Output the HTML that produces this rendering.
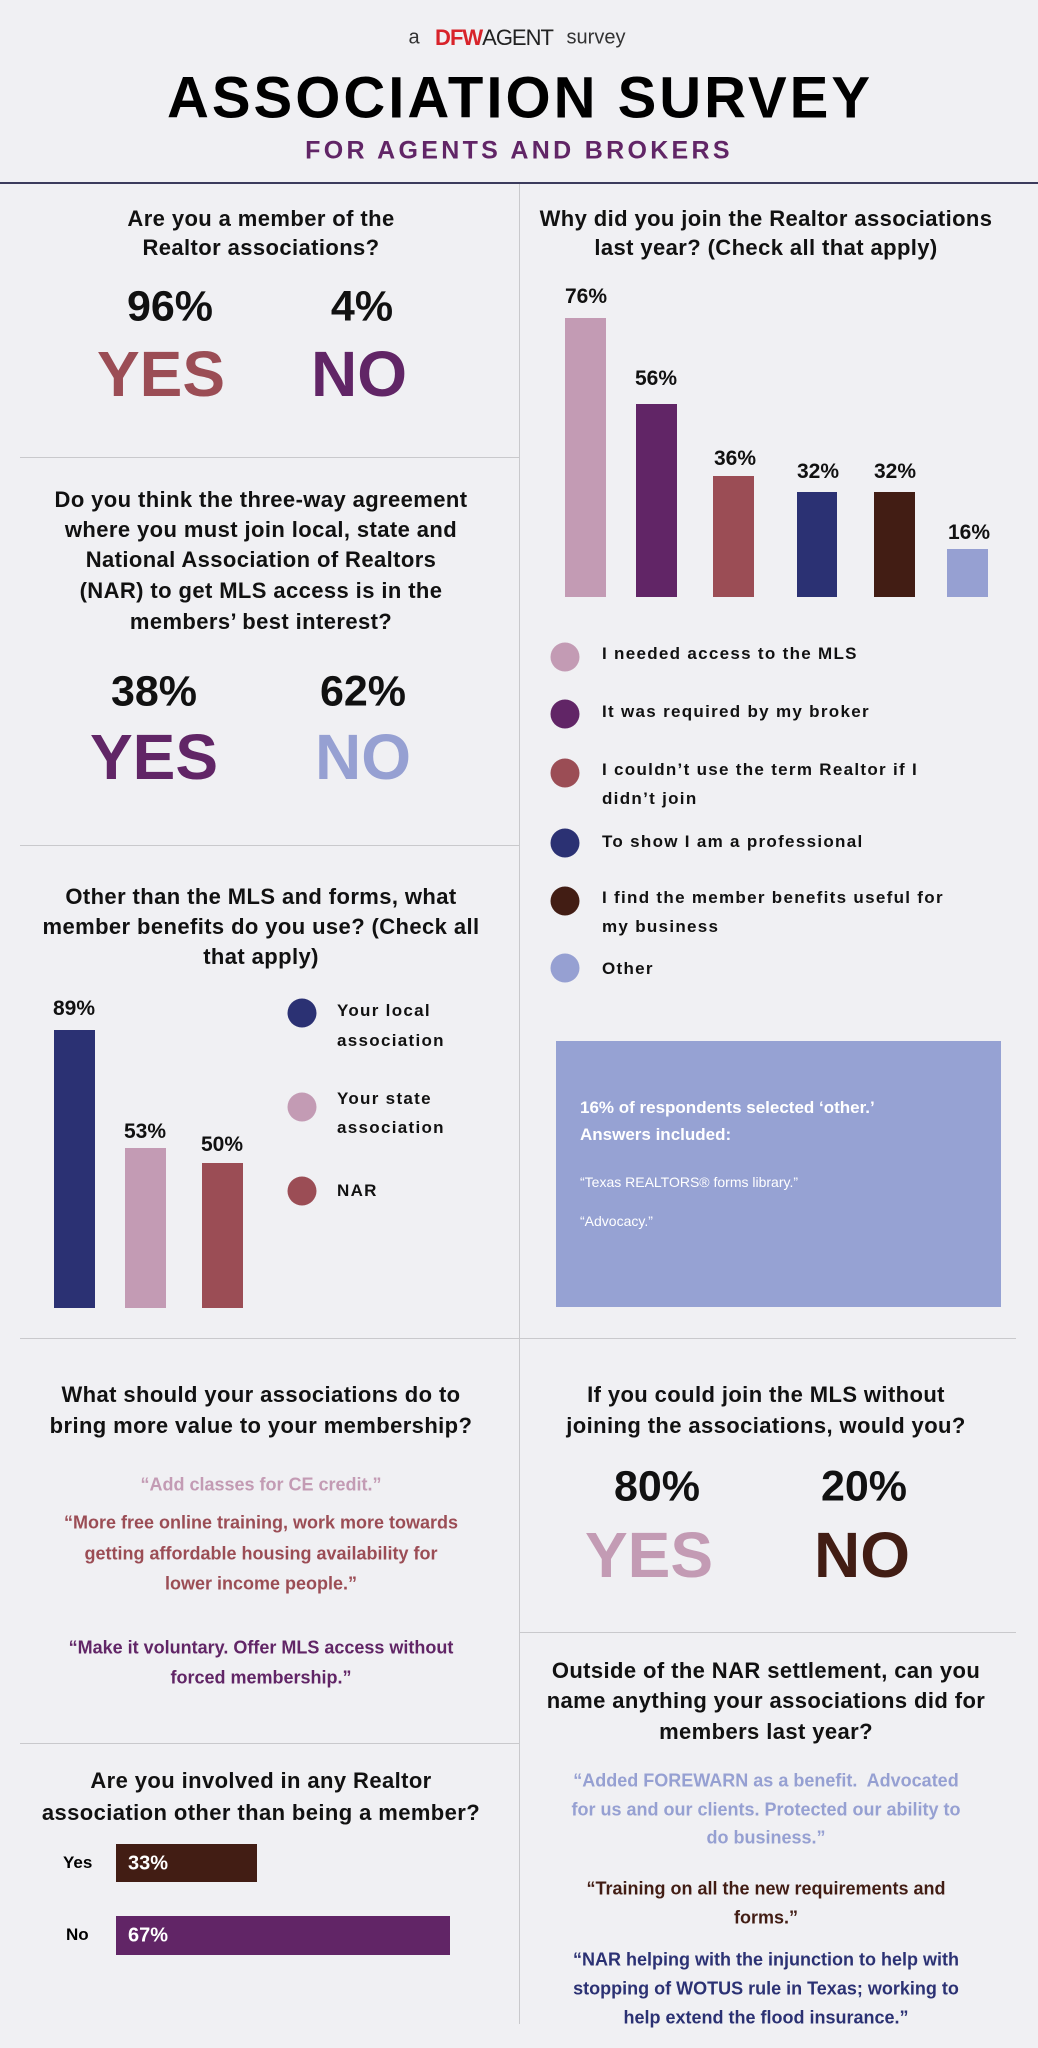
<!DOCTYPE html>
<html><head><meta charset="utf-8"><style>
body{margin:0;width:1038px;height:2048px;background:#f0f0f3;position:relative;overflow:hidden;font-family:"Liberation Sans",sans-serif;}
.c{position:absolute;white-space:nowrap;transform:translate(-50%,-50%);}
.l{position:absolute;white-space:nowrap;transform:translateY(-50%);}
.q{font-weight:bold;font-size:22px;color:#111;letter-spacing:0.4px;}
.p{font-weight:bold;font-size:43px;color:#111;}
.big{font-weight:bold;font-size:64px;letter-spacing:0px;}
.hl{position:absolute;height:1px;background:#c9c9cc;}
.bar{position:absolute;}
.lab{font-weight:bold;font-size:21px;color:#111;}
.dot{position:absolute;width:29px;height:29px;border-radius:50%;transform:translate(-50%,-50%);}
.lg{font-weight:bold;font-size:17px;color:#111;letter-spacing:1.3px;}
.qt{font-weight:bold;font-size:18px;}
</style></head><body>
<div class="c" style="left:414px;top:38px;font-size:20px;color:#333;">a</div>
<div class="c" style="left:494px;top:38px;font-size:22px;font-weight:bold;color:#d8232a;letter-spacing:-1px;">DFW<span style="color:#222;font-weight:normal;">AGENT</span></div>
<div class="c" style="left:596px;top:38px;font-size:20px;color:#333;">survey</div>
<div class="c" style="left:520px;top:98px;font-size:58px;font-weight:bold;color:#000;letter-spacing:3px;">ASSOCIATION SURVEY</div>
<div class="c" style="left:519px;top:151px;font-size:25px;font-weight:bold;color:#612566;letter-spacing:3.3px;">FOR AGENTS AND BROKERS</div>
<div style="position:absolute;left:0;top:182px;width:1038px;height:2px;background:#3b3b5c;"></div>
<div style="position:absolute;left:519px;top:184px;width:1px;height:1840px;background:#c9c9cc;"></div>
<div class="hl" style="left:20px;top:457px;width:499px;"></div>
<div class="hl" style="left:20px;top:845px;width:499px;"></div>
<div class="hl" style="left:20px;top:1338px;width:996px;"></div>
<div class="hl" style="left:20px;top:1743px;width:499px;"></div>
<div class="hl" style="left:519px;top:1632px;width:497px;"></div>

<div class="c q" style="left:261px;top:219px;">Are you a member of the</div>
<div class="c q" style="left:261px;top:248px;">Realtor associations?</div>
<div class="c p" style="left:170px;top:307px;">96%</div>
<div class="c p" style="left:362px;top:307px;">4%</div>
<div class="c big" style="left:161px;top:374px;color:#9b4d55;">YES</div>
<div class="c big" style="left:359px;top:374px;color:#612566;">NO</div>

<div class="c q" style="left:261px;top:500px;">Do you think the three-way agreement</div>
<div class="c q" style="left:261px;top:530px;">where you must join local, state and</div>
<div class="c q" style="left:261px;top:560px;">National Association of Realtors</div>
<div class="c q" style="left:261px;top:591px;">(NAR) to get MLS access is in the</div>
<div class="c q" style="left:261px;top:622px;">members’ best interest?</div>
<div class="c p" style="left:154px;top:692px;">38%</div>
<div class="c p" style="left:363px;top:692px;">62%</div>
<div class="c big" style="left:154px;top:757px;color:#612566;">YES</div>
<div class="c big" style="left:363px;top:757px;color:#96a0d2;">NO</div>

<div class="c q" style="left:261px;top:897px;">Other than the MLS and forms, what</div>
<div class="c q" style="left:261px;top:927px;">member benefits do you use? (Check all</div>
<div class="c q" style="left:261px;top:957px;">that apply)</div>
<div class="bar" style="left:54px;top:1030px;width:41px;height:278px;background:#2b3173;"></div>
<div class="bar" style="left:125px;top:1148px;width:41px;height:160px;background:#c39bb4;"></div>
<div class="bar" style="left:202px;top:1163px;width:41px;height:145px;background:#9b4d55;"></div>
<div class="c lab" style="left:74px;top:1009px;">89%</div>
<div class="c lab" style="left:145px;top:1132px;">53%</div>
<div class="c lab" style="left:222px;top:1145px;">50%</div>
<div class="dot" style="left:302px;top:1013px;background:#2b3173;"></div>
<div class="dot" style="left:302px;top:1107px;background:#c39bb4;"></div>
<div class="dot" style="left:302px;top:1191px;background:#9b4d55;"></div>
<div class="l lg" style="left:337px;top:1011px;">Your local</div>
<div class="l lg" style="left:337px;top:1041px;">association</div>
<div class="l lg" style="left:337px;top:1099px;">Your state</div>
<div class="l lg" style="left:337px;top:1128px;">association</div>
<div class="l lg" style="left:337px;top:1191px;">NAR</div>

<div class="c q" style="left:766px;top:219px;">Why did you join the Realtor associations</div>
<div class="c q" style="left:766px;top:248px;">last year? (Check all that apply)</div>
<div class="bar" style="left:565px;top:318px;width:41px;height:279px;background:#c39bb4;"></div>
<div class="bar" style="left:636px;top:404px;width:41px;height:193px;background:#612566;"></div>
<div class="bar" style="left:713px;top:476px;width:41px;height:121px;background:#9b4d55;"></div>
<div class="bar" style="left:797px;top:492px;width:40px;height:105px;background:#2b3173;"></div>
<div class="bar" style="left:874px;top:492px;width:41px;height:105px;background:#421d14;"></div>
<div class="bar" style="left:947px;top:549px;width:41px;height:48px;background:#96a0d2;"></div>
<div class="c lab" style="left:586px;top:297px;">76%</div>
<div class="c lab" style="left:656px;top:379px;">56%</div>
<div class="c lab" style="left:735px;top:459px;">36%</div>
<div class="c lab" style="left:818px;top:472px;">32%</div>
<div class="c lab" style="left:895px;top:472px;">32%</div>
<div class="c lab" style="left:969px;top:533px;">16%</div>
<div class="dot" style="left:565px;top:657px;background:#c39bb4;"></div>
<div class="dot" style="left:565px;top:714px;background:#612566;"></div>
<div class="dot" style="left:565px;top:773px;background:#9b4d55;"></div>
<div class="dot" style="left:565px;top:843px;background:#2b3173;"></div>
<div class="dot" style="left:565px;top:901px;background:#421d14;"></div>
<div class="dot" style="left:565px;top:968px;background:#96a0d2;"></div>
<div class="l lg" style="left:602px;top:654px;">I needed access to the MLS</div>
<div class="l lg" style="left:602px;top:712px;">It was required by my broker</div>
<div class="l lg" style="left:602px;top:770px;">I couldn’t use the term Realtor if I</div>
<div class="l lg" style="left:602px;top:799px;">didn’t join</div>
<div class="l lg" style="left:602px;top:842px;">To show I am a professional</div>
<div class="l lg" style="left:602px;top:898px;">I find the member benefits useful for</div>
<div class="l lg" style="left:602px;top:927px;">my business</div>
<div class="l lg" style="left:602px;top:969px;">Other</div>

<div style="position:absolute;left:556px;top:1041px;width:445px;height:266px;background:#96a2d3;"></div>
<div class="l" style="left:580px;top:1108px;color:#fff;font-weight:bold;font-size:17px;">16% of respondents selected ‘other.’</div>
<div class="l" style="left:580px;top:1135px;color:#fff;font-weight:bold;font-size:17px;">Answers included:</div>
<div class="l" style="left:580px;top:1182px;color:#fff;font-size:14px;">“Texas REALTORS® forms library.”</div>
<div class="l" style="left:580px;top:1221px;color:#fff;font-size:14px;">“Advocacy.”</div>

<div class="c q" style="left:261px;top:1395px;">What should your associations do to</div>
<div class="c q" style="left:261px;top:1426px;">bring more value to your membership?</div>
<div class="c qt" style="left:261px;top:1485px;color:#c39bb4;">“Add classes for CE credit.”</div>
<div class="c qt" style="left:261px;top:1523px;color:#9b4d55;">“More free online training, work more towards</div>
<div class="c qt" style="left:261px;top:1554px;color:#9b4d55;">getting affordable housing availability for</div>
<div class="c qt" style="left:261px;top:1584px;color:#9b4d55;">lower income people.”</div>
<div class="c qt" style="left:261px;top:1648px;color:#612566;">“Make it voluntary. Offer MLS access without</div>
<div class="c qt" style="left:261px;top:1678px;color:#612566;">forced membership.”</div>

<div class="c q" style="left:261px;top:1781px;">Are you involved in any Realtor</div>
<div class="c q" style="left:261px;top:1813px;">association other than being a member?</div>
<div class="l" style="left:63px;top:1863px;font-weight:bold;font-size:17px;">Yes</div>
<div class="l" style="left:66px;top:1935px;font-weight:bold;font-size:17px;">No</div>
<div class="bar" style="left:116px;top:1844px;width:141px;height:38px;background:#421d14;"></div>
<div class="bar" style="left:116px;top:1916px;width:334px;height:39px;background:#612566;"></div>
<div class="l" style="left:128px;top:1864px;color:#fff;font-weight:bold;font-size:20px;">33%</div>
<div class="l" style="left:128px;top:1936px;color:#fff;font-weight:bold;font-size:20px;">67%</div>

<div class="c q" style="left:766px;top:1395px;">If you could join the MLS without</div>
<div class="c q" style="left:766px;top:1426px;">joining the associations, would you?</div>
<div class="c p" style="left:657px;top:1487px;">80%</div>
<div class="c p" style="left:864px;top:1487px;">20%</div>
<div class="c big" style="left:649px;top:1555px;color:#c39bb4;">YES</div>
<div class="c big" style="left:862px;top:1555px;color:#421d14;">NO</div>

<div class="c q" style="left:766px;top:1671px;">Outside of the NAR settlement, can you</div>
<div class="c q" style="left:766px;top:1701px;">name anything your associations did for</div>
<div class="c q" style="left:766px;top:1732px;">members last year?</div>
<div class="c qt" style="left:766px;top:1781px;color:#96a0d2;">“Added FOREWARN as a benefit.&nbsp; Advocated</div>
<div class="c qt" style="left:766px;top:1810px;color:#96a0d2;">for us and our clients. Protected our ability to</div>
<div class="c qt" style="left:766px;top:1838px;color:#96a0d2;">do business.”</div>
<div class="c qt" style="left:766px;top:1889px;color:#421d14;">“Training on all the new requirements and</div>
<div class="c qt" style="left:766px;top:1918px;color:#421d14;">forms.”</div>
<div class="c qt" style="left:766px;top:1960px;color:#2b3173;">“NAR helping with the injunction to help with</div>
<div class="c qt" style="left:766px;top:1989px;color:#2b3173;">stopping of WOTUS rule in Texas; working to</div>
<div class="c qt" style="left:766px;top:2018px;color:#2b3173;">help extend the flood insurance.”</div>
</body></html>
